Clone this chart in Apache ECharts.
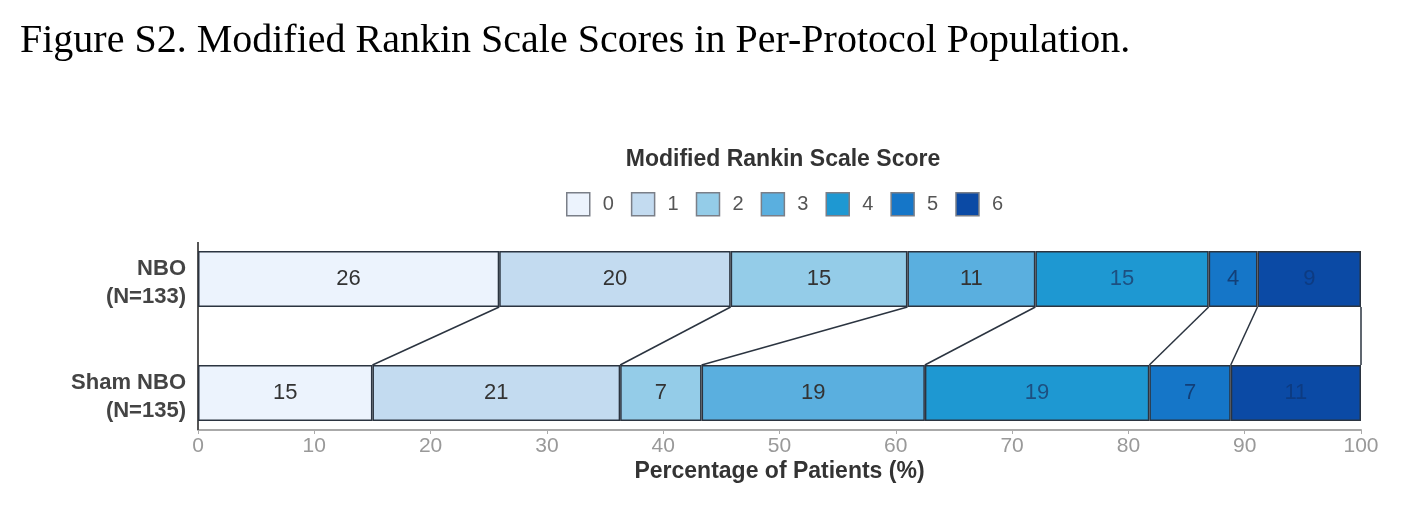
<!DOCTYPE html>
<html>
<head>
<meta charset="utf-8">
<script src="https://cdn.jsdelivr.net/npm/echarts@6/dist/echarts.min.js"></script>
<style>
html,body{margin:0;padding:0;background:#fff;}
#chart{width:1406px;height:510px;}
</style>
</head>
<body>
<div id="chart"></div>
<script>
// ---- data ----
var groups = ['NBO\n(N=133)', 'Sham NBO\n(N=135)'];
var scores = ['0', '1', '2', '3', '4', '5', '6'];
var nboValues  = [25.9, 19.9, 15.2, 11.0, 14.9, 4.2, 8.9];
var shamValues = [15.0, 21.3, 7.0, 19.2, 19.3, 7.0, 11.2];
var nboLabels  = [26, 20, 15, 11, 15, 4, 9];
var shamLabels = [15, 21, 7, 19, 19, 7, 11];
var xTicks = [0, 10, 20, 30, 40, 50, 60, 70, 80, 90, 100];

// ---- styles ----
var colors = ['#ecf3fd', '#c3dbf0', '#94cce8', '#5aafdf', '#1e98d2', '#1576c8', '#0b4aa5'];
var labelColors = ['#333333', '#333333', '#333333', '#333333', '#1d4f80', '#123f78', '#0d3b82'];
var BAR_W = 56;
var SANS = 'Liberation Sans, Arial, sans-serif';

function cum(arr) {
  var out = [], s = 0;
  for (var i = 0; i < arr.length - 1; i++) { s += arr[i]; out.push(s); }
  return out;
}
var nboCum = cum(nboValues), shamCum = cum(shamValues);
var connectorData = nboCum.map(function (v, i) { return [v, shamCum[i]]; });

var series = scores.map(function (s, i) {
  return {
    name: s,
    type: 'bar',
    stack: 'total',
    barWidth: BAR_W,
    data: [nboValues[i], shamValues[i]],
    itemStyle: { color: colors[i], borderColor: '#2b3440', borderWidth: 1.5 },
    label: {
      show: true,
      position: 'inside',
      fontFamily: SANS,
      fontSize: 22,
      color: labelColors[i],
      formatter: function (p) { return p.dataIndex === 0 ? nboLabels[i] : shamLabels[i]; }
    },
    emphasis: { disabled: true }
  };
});

// connector lines between bars
series.push({
  type: 'custom',
  silent: true,
  data: connectorData,
  renderItem: function (params, api) {
    var a = api.coord([api.value(0), 0]);
    var b = api.coord([api.value(1), 1]);
    return {
      type: 'line',
      shape: { x1: a[0], y1: a[1] + BAR_W / 2, x2: b[0], y2: b[1] - BAR_W / 2 },
      style: { stroke: '#2b3440', lineWidth: 1.5 }
    };
  }
});

// frame lines (left axis line and right edge between bars)
series.push({
  type: 'custom',
  silent: true,
  data: [[0, 100]],
  renderItem: function (params, api) {
    var lt = api.coord([api.value(0), 0]);
    var lb = api.coord([api.value(0), 1]);
    var rt = api.coord([api.value(1), 0]);
    var rb = api.coord([api.value(1), 1]);
    return {
      type: 'group',
      children: [
        { type: 'line', shape: { x1: lt[0], y1: lt[1] - BAR_W / 2 - 9, x2: lb[0], y2: lb[1] + BAR_W / 2 + 9 },
          style: { stroke: '#555', lineWidth: 2 } },
        { type: 'line', shape: { x1: rt[0], y1: rt[1] + BAR_W / 2, x2: rb[0], y2: rb[1] - BAR_W / 2 },
          style: { stroke: '#2b3440', lineWidth: 1.5 } }
      ]
    };
  }
});

var chart = echarts.init(document.getElementById('chart'));
chart.setOption({
  backgroundColor: '#fff',
  animation: false,
  title: [
    {
      text: 'Figure S2. Modified Rankin Scale Scores in Per-Protocol Population.',
      left: 15, top: 16,
      textStyle: { fontFamily: 'Liberation Serif, Times New Roman, serif', fontSize: 40, fontWeight: 'normal', color: '#000' }
    },
    {
      text: 'Modified Rankin Scale Score',
      left: 778, top: 143, textAlign: 'center',
      textStyle: { fontFamily: SANS, fontSize: 23, fontWeight: 'bold', color: '#333' }
    }
  ],
  legend: {
    data: scores,
    left: 561, top: 187,
    icon: 'rect',
    itemWidth: 23, itemHeight: 23,
    itemGap: 17,
    selectedMode: false,
    itemStyle: { borderColor: '#7a7f88', borderWidth: 1.5 },
    textStyle: { fontFamily: SANS, fontSize: 20, color: '#555', padding: [0, 0, 0, 8] }
  },
  grid: { left: 198, right: 45, top: 222, bottom: 60, containLabel: false },
  xAxis: {
    type: 'value',
    min: 0, max: 100, interval: 10,
    offset: -20,
    name: 'Percentage of Patients (%)',
    nameLocation: 'middle',
    nameGap: 30,
    nameTextStyle: { fontFamily: SANS, fontSize: 23, fontWeight: 'bold', color: '#333' },
    axisLine: { show: true, lineStyle: { color: '#aaa', width: 2 } },
    axisTick: { show: true, length: 4, lineStyle: { color: '#aaa' } },
    axisLabel: {
      fontFamily: SANS, fontSize: 21, color: '#999', margin: 6,
      formatter: function (v) { return xTicks.indexOf(v) >= 0 ? String(v) : ''; }
    },
    splitLine: { show: false }
  },
  yAxis: {
    type: 'category',
    data: groups,
    inverse: true,
    axisLine: { show: false },
    axisTick: { show: false },
    axisLabel: {
      margin: 12, align: 'right',
      formatter: function (v) { return '{a|' + v.split('\n').join('}\n{a|') + '}'; },
      rich: { a: { fontFamily: SANS, fontSize: 22, fontWeight: 'bold', color: '#444', lineHeight: 28, padding: [8, 0, 0, 0] } }
    }
  },
  series: series
});
</script>
</body>
</html>
